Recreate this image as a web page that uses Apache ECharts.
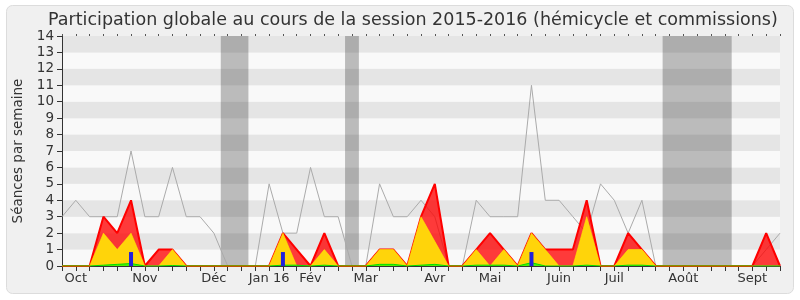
<!DOCTYPE html>
<html>
<head>
<meta charset="utf-8">
<script src="https://cdn.jsdelivr.net/npm/echarts@6/dist/echarts.min.js"></script>
<style>html,body{margin:0;padding:0;background:#fff;}#c{width:800px;height:300px;}</style>
</head>
<body>
<div id="c"></div>
<script>
// Weekly points (53 weeks, session 2015-2016)
var weekCount = 53;
var monthLabels = ['Oct', 'Nov', 'Déc', 'Jan 16', 'Fév', 'Mar', 'Avr', 'Mai', 'Juin', 'Juil', 'Août', 'Sept'];
var monthWeekIndex = [1, 6, 11, 15, 18, 22, 27, 31, 36, 40, 45, 50];
// Grey line: séances per week (all)
var totalSeances = [3,4,3,3,3,7,3,3,6,3,3,2,0,0,0,5,2,2,6,3,3,0,0,5,3,3,4,3,0,0,4,3,3,3,11,4,4,3,2,5,4,2,4,0,0,0,0,0,0,0,0,1,2];
// Red area (total presences)
var redValues = [0,0,0,3,2,4,0,1,1,0,0,0,0,0,0,0,2,1,0,2,0,0,0,1,1,0,3,5,0,0,1,2,1,0,2,1,1,1,4,0,0,2,1,0,0,0,0,0,0,0,0,2,0];
// Yellow area
var yellowValues = [0,0,0,2,1,2,0,0,1,0,0,0,0,0,0,0,2,0,0,1,0,0,0,1,1,0,3,1.5,0,0,1,0,1,0,2,1,0,0,3,0,0,1,1,0,0,0,0,0,0,0,0,0,0];
// Green area (small)
var greenValues = [0,0,0,0.05,0.1,0.15,0,0,0.03,0,0,0,0,0,0,0,0.05,0.05,0,0.05,0,0,0,0.1,0.1,0,0.05,0.1,0,0,0.05,0.05,0.05,0,0.2,0,0,0,0.05,0,0,0.05,0.05,0,0,0,0,0,0,0,0,0,0];
// Blue bars
var blueValues = [0,0,0,0,0,0.85,0,0,0,0,0,0,0,0,0,0,0.85,0,0,0,0,0,0,0,0,0,0,0,0,0,0,0,0,0,0.85,0,0,0,0,0,0,0,0,0,0,0,0,0,0,0,0,0,0];
// Vacation bands (in week units)
var vacationStart = [11.5, 20.5, 43.5];
var vacationEnd = [13.5, 21.5, 48.5];

var weekLabels = [];
for (var i = 0; i < weekCount; i++) {
  var k = monthWeekIndex.indexOf(i);
  weekLabels.push(k >= 0 ? monthLabels[k] : '');
}
var bands = vacationStart.map(function (s, j) { return [{xAxis: s}, {xAxis: vacationEnd[j]}]; });

var FONT = 'DejaVu Sans';
var chart = echarts.init(document.getElementById('c'), null, {renderer: 'canvas'});
chart.setOption({
  animation: false,
  backgroundColor: '#ffffff',
  textStyle: {fontFamily: FONT},
  graphic: [{
    type: 'rect', z: -10, silent: true,
    shape: {x: 6.5, y: 5.5, width: 787, height: 288, r: 6},
    style: {fill: '#f0f0f0', stroke: '#dcdcdc', lineWidth: 1}
  }],
  title: {
    text: 'Participation globale au cours de la session 2015-2016 (hémicycle et commissions)',
    left: 43, top: 6,
    textStyle: {fontFamily: FONT, fontSize: 17.5, fontWeight: 'normal', color: '#333'}
  },
  grid: {left: 62, right: 20, top: 36, bottom: 34, containLabel: false},
  xAxis: [{
    type: 'category', data: weekLabels, boundaryGap: false, position: 'bottom',
    axisLine: {show: true, lineStyle: {color: '#333', width: 1}},
    axisTick: {show: true, interval: 0, length: 5, lineStyle: {color: '#333'}},
    axisLabel: {interval: 0, margin: 6, fontSize: 13, color: '#333', fontFamily: FONT},
    splitLine: {show: false}
  }, {
    type: 'value', min: 0, max: 52, interval: 1, position: 'top',
    axisLine: {show: false},
    axisTick: {show: true, length: 2, lineStyle: {color: '#555'}},
    axisLabel: {show: false},
    splitLine: {show: false}
  }],
  yAxis: {
    type: 'value', min: 0, max: 14, interval: 1,
    name: 'Séances par semaine', nameLocation: 'middle', nameGap: 37,
    nameTextStyle: {fontSize: 13.5, color: '#333', fontFamily: FONT},
    axisLine: {show: true, lineStyle: {color: '#333'}},
    axisTick: {show: true, length: 5, lineStyle: {color: '#333'}},
    axisLabel: {fontSize: 13.5, color: '#333', margin: 8, fontFamily: FONT},
    splitLine: {show: false},
    splitArea: {show: true, areaStyle: {color: ['#f9f9f9', '#e5e5e5']}}
  },
  series: [{
    type: 'line', xAxisIndex: 1, data: [], silent: true,
    markArea: {silent: true, itemStyle: {color: 'rgba(42,42,42,0.3)'}, data: bands}
  }, {
    name: 'total', type: 'line', data: totalSeances, symbol: 'none', z: 2,
    lineStyle: {color: '#aaaaaa', width: 1}
  }, {
    name: 'rouge', type: 'line', data: redValues, symbol: 'none', z: 3,
    lineStyle: {color: '#ff0000', width: 2},
    areaStyle: {color: 'rgba(255,0,0,0.77)', opacity: 1}
  }, {
    name: 'jaune', type: 'line', data: yellowValues, symbol: 'none', z: 4,
    lineStyle: {color: 'rgba(255,235,0,0.6)', width: 1},
    areaStyle: {color: '#ffd40a', opacity: 1}
  }, {
    name: 'vert', type: 'line', data: greenValues, symbol: 'none', z: 5,
    lineStyle: {color: '#00dd00', width: 1},
    areaStyle: {color: 'rgba(0,255,0,0.7)', opacity: 1}
  }, {
    name: 'bleu', type: 'bar', data: blueValues, barWidth: 4, z: 6,
    itemStyle: {color: '#2020dd'}
  }]
});
</script>
</body>
</html>
